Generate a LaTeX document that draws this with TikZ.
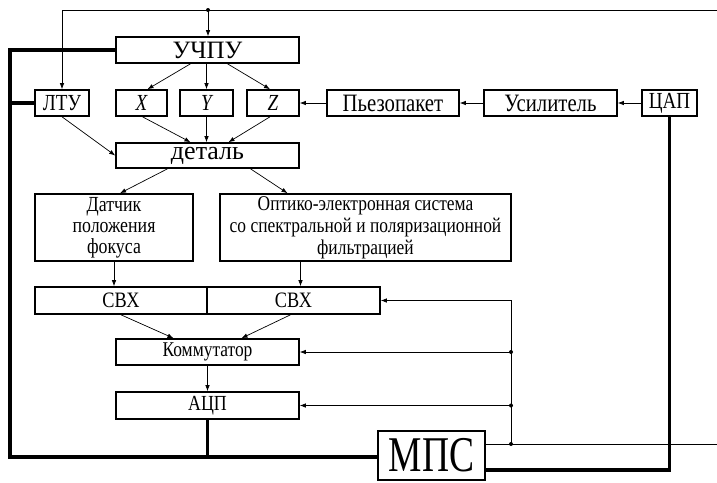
\documentclass[tikz,border=0pt]{standalone}
\usepackage{fontspec}
\setmainfont{Liberation Serif}[FakeStretch=0.83]
\newfontfamily\wideserif{Liberation Serif}
\newfontfamily\mpsserif{Liberation Serif}[FakeStretch=0.75]
\usetikzlibrary{arrows.meta}

\newcommand{\fs}[2]{\fontsize{#1}{#2}\selectfont}

\begin{document}
\begin{tikzpicture}[x=1pt,y=-1pt,
  blok/.style={draw, line width=1.6pt, inner sep=0pt, minimum height=26pt, align=center, font=\fs{23}{25}},
  thin/.style={line width=0.7pt},
  bus/.style={line width=3.6pt},
  arr/.style={thin, -{Latex[length=6pt,width=4.5pt]}},
  dot/.style={circle, fill, inner sep=0pt, minimum size=4pt}]
\useasboundingbox (0,0) rectangle (717,482);
% Control row
\node[blok, minimum width=183pt, font=\wideserif\fs{25}{28}] (uchpu) at (207.5,50) {УЧПУ};
\node[blok, minimum width=54pt] (ltu) at (62,103) {ЛТУ};
\node[blok, minimum width=51pt, font=\fs{23}{25}\itshape] (axX) at (141.5,103) {X};
\node[blok, minimum width=53pt, font=\fs{23}{25}\itshape] (axY) at (206.5,103) {Y};
\node[blok, minimum width=52pt, font=\fs{23}{25}\itshape] (axZ) at (273,103) {Z};
\node[blok, minimum width=132pt, font=\fs{25}{27}] (piezo) at (393,103) {Пьезопакет};
\node[blok, minimum width=133pt, font=\fs{25}{27}] (amp) at (550.5,103) {Усилитель};
\node[blok, minimum width=55pt] (dac) at (669.5,103) {ЦАП};
\node[blok, minimum width=183pt, minimum height=25pt, font=\wideserif\fs{26}{27}] (detal) at (207.5,155.5) {деталь};
% Measuring part
\node[blok, minimum width=158pt, minimum height=67pt, font=\fs{21.5}{21}] (sensor) at (114,227.5) {Датчик\\положения\\фокуса};
\node[blok, minimum width=291pt, minimum height=67pt, font=\fs{21}{22}] (optic) at (365.5,227.5) {Оптико-электронная система\\со спектральной и поляризационной\\фильтрацией};
\node[blok, minimum width=172pt, minimum height=27pt, font=\fs{22}{24}] (svxA) at (121,300.5) {СВХ};
\node[blok, minimum width=173pt, minimum height=27pt, font=\fs{22}{24}] (svxB) at (293.5,300.5) {СВХ};
\node[blok, minimum width=183pt, font=\fs{21}{23}] (komm) at (207.5,352) {Коммутатор};
\node[blok, minimum width=183pt, minimum height=27pt, font=\fs{21.5}{23}] (adc) at (207.5,405.5) {АЦП};
\node[blok, minimum width=107pt, minimum height=49pt, font=\mpsserif\fs{50}{52}] (mps) at (431.5,455.5) {\raisebox{-4pt}{МПС}};
% Helper points
\coordinate (topR) at (717,10);
\coordinate (topdot) at (208,10);
\coordinate (busTL) at (10,50);
\coordinate (busBL) at (10,457);
\coordinate (busBR) at (669,470);
\coordinate (tap) at (511,444);
\coordinate (outR) at (717,444);
% Thick buses
\draw[bus] (uchpu.west) -- (busTL) -- (busBL) -- (mps.west |- busBL);
\draw[bus] (ltu.west) -- (busTL |- ltu.west);
\draw[bus] (adc.south) -- (adc.south |- busBL);
\draw[bus] (dac.south) -- (dac.south |- busBR) -- (mps.east |- busBR);
% Top feedback line
\draw[arr] (topR) -- (ltu.north |- topR) -- (ltu.north);
\draw[arr] (topdot) -- (topdot |- uchpu.north);
\node[dot] at (topdot) {};
% Drive chain
\draw[arr] (dac.west) -- (amp.east);
\draw[arr] (amp.west) -- (piezo.east);
\draw[arr] (piezo.west) -- (axZ.east);
% Axes
\draw[arr] ([xshift=-17pt]uchpu.south) -- ([xshift=6pt]axX.north);
\draw[arr] (axY.north |- uchpu.south) -- (axY.north);
\draw[arr] ([xshift=20pt]uchpu.south) -- ([xshift=-3pt]axZ.north);
\draw[arr] ([xshift=1pt]axX.south) -- ([xshift=-17pt]detal.north);
\draw[arr] (axY.south) -- (axY.south |- detal.north);
\draw[arr] ([xshift=-3pt]axZ.south) -- ([xshift=21pt]detal.north);
\draw[arr] (ltu.south) -- (detal.west);
% Measurement
\draw[arr] ([xshift=-40pt]detal.south) -- ([xshift=6pt]sensor.north);
\draw[arr] ([xshift=43pt]detal.south) -- ([xshift=-78pt]optic.north);
\draw[arr] (sensor.south) -- (sensor.south |- svxA.north);
\draw[arr] ([xshift=-65pt]optic.south) -- ([xshift=-65pt]optic.south |- svxB.north);
\draw[arr] (svxA.south) -- ([xshift=-34pt]komm.north);
\draw[arr] ([xshift=-3pt]svxB.south) -- ([xshift=34pt]komm.north);
\draw[arr] (komm.south) -- (adc.north);
% MPS control lines
\draw[thin] (mps.east |- tap) -- (outR);
\draw[arr] (tap) -- (tap |- svxB.east) -- (svxB.east);
\draw[arr] (tap |- komm.east) -- (komm.east);
\draw[arr] (tap |- adc.east) -- (adc.east);
\node[dot] at (tap) {};
\node[dot] at (tap |- komm.east) {};
\node[dot] at (tap |- adc.east) {};
\end{tikzpicture}
\end{document}
